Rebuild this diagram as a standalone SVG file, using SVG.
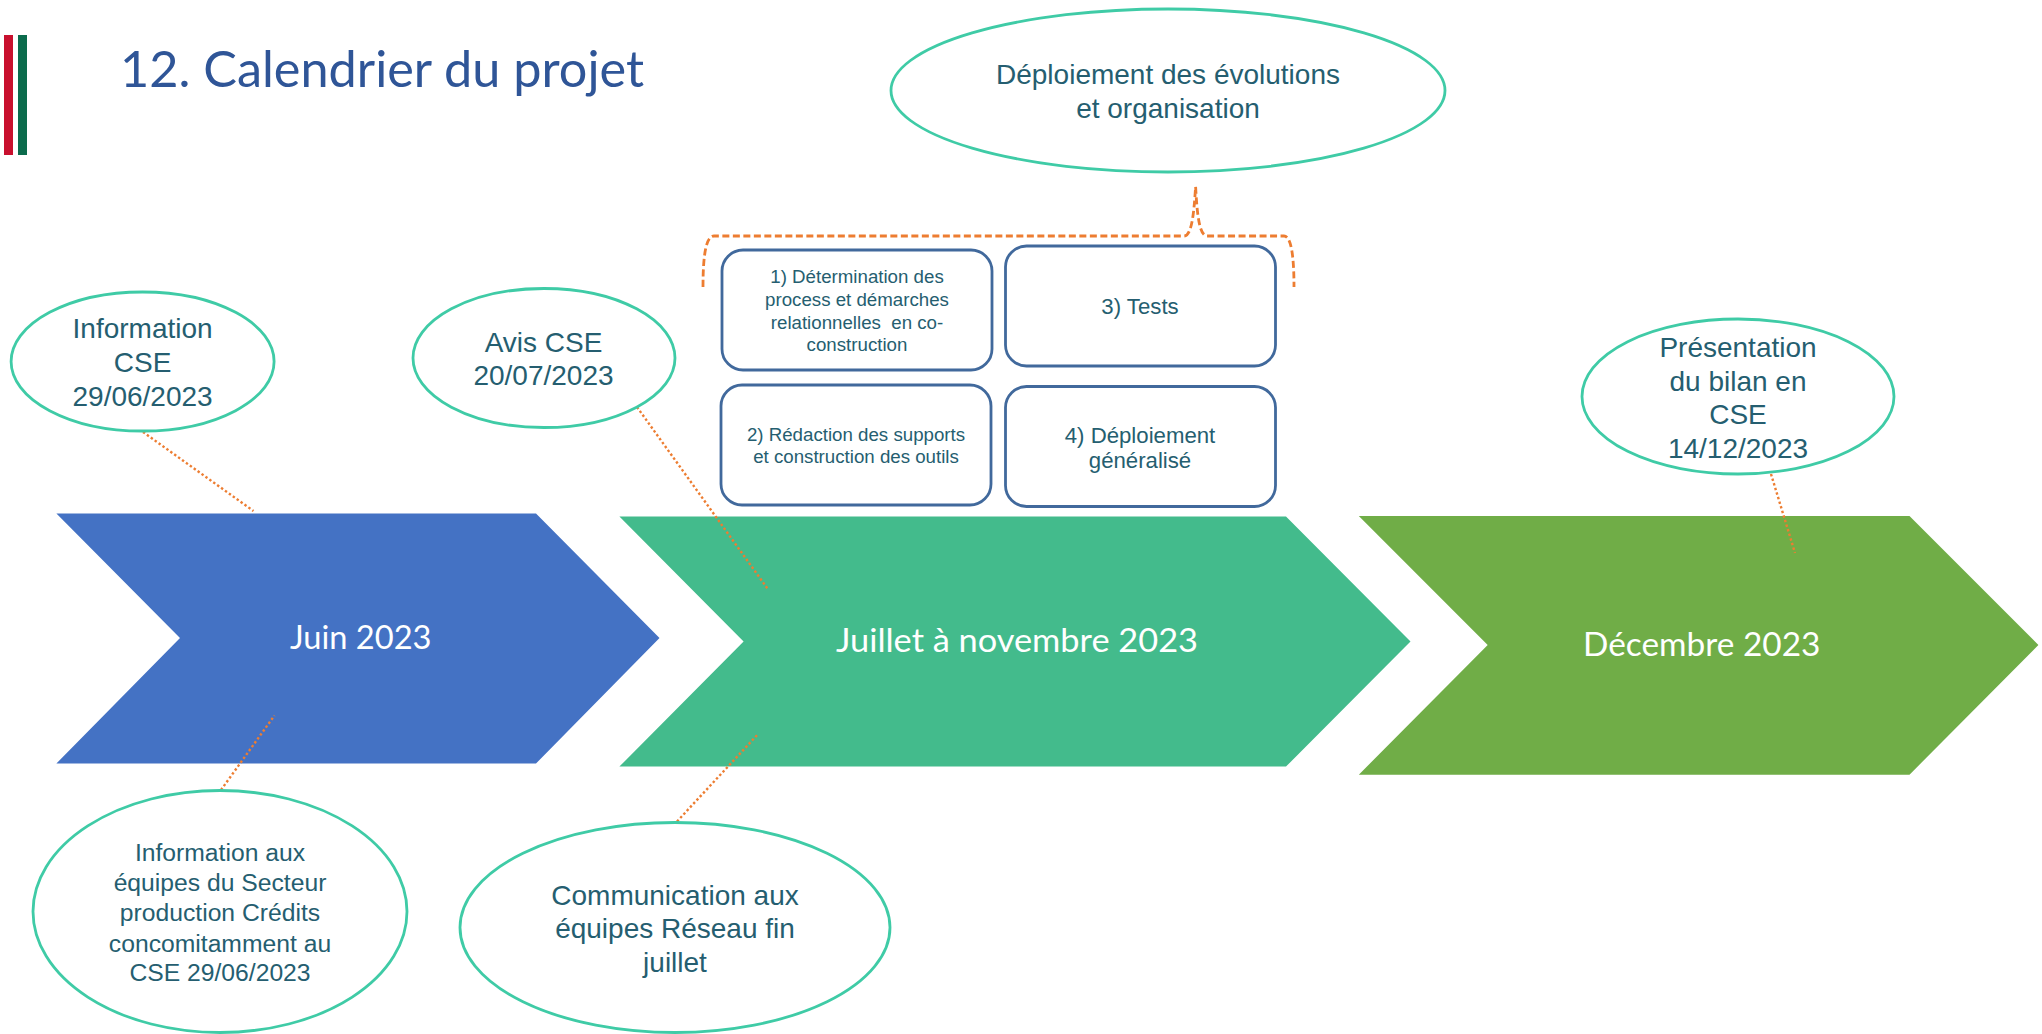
<svg xmlns="http://www.w3.org/2000/svg" width="2042" height="1034" viewBox="0 0 2042 1034">
<style>
.t{font-family:"Liberation Sans",Arial,sans-serif;fill:#255e70;text-anchor:middle}
.f28{font-size:28px}.f24{font-size:24.7px}.f22{font-size:22.2px}.f18{font-size:18.7px}
.c{font-family:Lato,"Open Sans",sans-serif;fill:#fff;font-size:33px}
.el{fill:#fff;stroke:#3fcba6;stroke-width:2.8}
.box{fill:#fff;stroke:#41699c;stroke-width:2.8}
.dot{fill:none;stroke:#ed7d31;stroke-width:2.4;stroke-dasharray:2.4 2.4}
</style>
<rect width="2042" height="1034" fill="#fff"/>
<g id="logo"><rect x="4" y="35" width="9" height="120" fill="#c8102e"/><rect x="18" y="35" width="9" height="120" fill="#0b6b4c"/></g>
<text id="title" x="120" y="87" font-family="Lato,'Open Sans',sans-serif" font-size="51" fill="#2f5597" textLength="524" lengthAdjust="spacingAndGlyphs">12. Calendrier du projet</text>
<g id="chevron-juin"><polygon points="56.4,513.6 536,513.6 659.5,638 536,763.5 56.4,763.5 180,638" fill="#4472c4"/><text class="c" x="290" y="649" textLength="141.5" lengthAdjust="spacingAndGlyphs">Juin 2023</text></g>
<g id="chevron-juillet"><polygon points="619.4,516.5 1286,516.5 1410.5,641.5 1286,766.6 619.4,766.6 743.6,641.5" fill="#43bb8c"/><text class="c" x="836" y="652" textLength="362" lengthAdjust="spacingAndGlyphs">Juillet à novembre 2023</text></g>
<g id="chevron-decembre"><polygon points="1358.8,516 1909.5,516 2038.4,645 1909.5,774.7 1358.8,774.7 1487.7,645" fill="#70ad47"/><text class="c" x="1583" y="656" textLength="237.4" lengthAdjust="spacingAndGlyphs">Décembre 2023</text></g>
<g id="connectors">
<line class="dot" x1="143" y1="432" x2="253.5" y2="511"/>
<line class="dot" x1="637" y1="407" x2="768.5" y2="590"/>
<line class="dot" x1="221" y1="790" x2="274.5" y2="715.5"/>
<line class="dot" x1="677" y1="821.5" x2="757.6" y2="734.6"/>
<line class="dot" x1="1771" y1="474" x2="1795" y2="553"/>
<path d="M703,287 C703,255 706,236 714,236 L1184,236 C1192,236 1194,212 1195.6,186.6 C1197,212 1199,236 1207,236 L1284,236 C1291,236 1294,255 1294,287" fill="none" stroke="#ed7d31" stroke-width="2.8" stroke-dasharray="7 3.5"/>
</g>
<g id="ellipse-info-cse"><ellipse class="el" cx="142.6" cy="361.5" rx="131.5" ry="69.5"/><text class="t f28" x="142.6" y="338">Information</text><text class="t f28" x="142.6" y="372">CSE</text><text class="t f28" x="142.6" y="406">29/06/2023</text></g>
<g id="ellipse-avis-cse"><ellipse class="el" cx="544" cy="358" rx="131" ry="69.5"/><text class="t f28" x="543.5" y="352">Avis CSE</text><text class="t f28" x="543.5" y="385">20/07/2023</text></g>
<g id="ellipse-info-equipes"><ellipse class="el" cx="220" cy="911.5" rx="187" ry="121"/><text class="t f24" x="220" y="861.4">Information aux</text><text class="t f24" x="220" y="891.4">équipes du Secteur</text><text class="t f24" x="220" y="921.4">production Crédits</text><text class="t f24" x="220" y="951.6">concomitamment au</text><text class="t f24" x="220" y="981.4">CSE 29/06/2023</text></g>
<g id="ellipse-communication"><ellipse class="el" cx="675" cy="927.5" rx="215" ry="105"/><text class="t f28" x="675" y="905">Communication aux</text><text class="t f28" x="675" y="938">équipes Réseau fin</text><text class="t f28" x="675" y="972">juillet</text></g>
<g id="ellipse-deploiement"><ellipse class="el" cx="1168" cy="90.5" rx="277" ry="81.5"/><text class="t f28" x="1168" y="84">Déploiement des évolutions</text><text class="t f28" x="1168" y="118">et organisation</text></g>
<g id="ellipse-presentation"><ellipse class="el" cx="1738" cy="396.5" rx="156" ry="77.5"/><text class="t f28" x="1738" y="356.7">Présentation</text><text class="t f28" x="1738" y="390.7">du bilan en</text><text class="t f28" x="1738" y="424.3">CSE</text><text class="t f28" x="1738" y="457.7">14/12/2023</text></g>
<g id="box-1"><rect class="box" x="722" y="250" width="270" height="120" rx="21"/><text class="t f18" x="857" y="283.3">1) Détermination des</text><text class="t f18" x="857" y="306">process et démarches</text><text class="t f18" x="857" y="328.6" xml:space="preserve">relationnelles  en co-</text><text class="t f18" x="857" y="351">construction</text></g>
<g id="box-2"><rect class="box" x="721" y="385" width="270" height="120" rx="21"/><text class="t f18" x="856" y="441">2) Rédaction des supports</text><text class="t f18" x="856" y="463">et construction des outils</text></g>
<g id="box-3"><rect class="box" x="1005.5" y="246" width="270" height="120" rx="21"/><text class="t f22" x="1140" y="314.4">3) Tests</text></g>
<g id="box-4"><rect class="box" x="1005.5" y="386.5" width="270" height="120" rx="21"/><text class="t f22" x="1140" y="442.5">4) Déploiement</text><text class="t f22" x="1140" y="468">généralisé</text></g>
</svg>
